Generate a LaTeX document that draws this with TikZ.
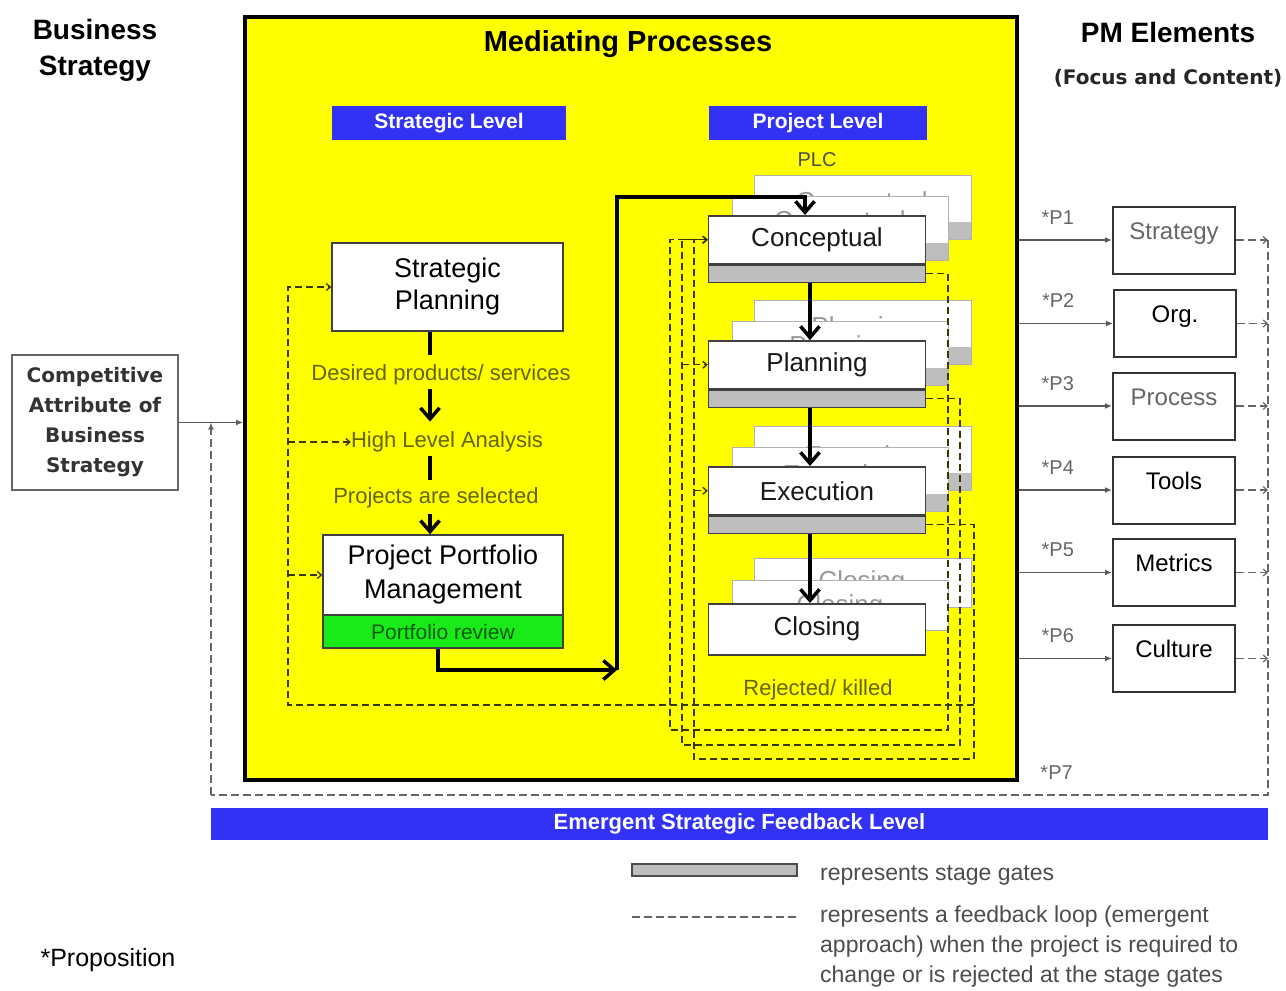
\documentclass[tikz,border=0pt]{standalone}
\usepackage{fontspec}
\setmainfont{Liberation Sans}
\newfontfamily\roundfont{DejaVu Sans}
\usetikzlibrary{arrows.meta}
\definecolor{medyellow}{RGB}{255,255,0}
\definecolor{barblue}{RGB}{50,50,245}
\definecolor{revgreen}{RGB}{25,235,25}
\definecolor{revtext}{RGB}{0,90,0}
\definecolor{olivetext}{RGB}{100,100,0}
\definecolor{fbolive}{RGB}{55,55,0}
\definecolor{gategray}{RGB}{190,190,190}

\begin{document}
\begin{tikzpicture}[x=1pt, y=-1pt,
  every node/.style={inner sep=0pt, align=center},
  levelbar/.style={fill=barblue, text=white, minimum height=34pt, font=\bfseries\fontsize{21}{24}\selectfont},
  plainbox/.style={draw=black!75, line width=1.5pt, fill=white},
  stagebox/.style={plainbox, minimum width=217pt, minimum height=48pt, font=\fontsize{26}{30}\selectfont, text=black!90},
  gatebox/.style={draw=black!75, line width=1.5pt, fill=gategray, minimum width=217pt, minimum height=17pt},
  ghost/.style={draw=black!30, line width=1pt, fill=white},
  ghosttext/.style={text=black!40, font=\fontsize{26}{30}\selectfont},
  note/.style={text=olivetext, font=\fontsize{22}{26}\selectfont},
  pmbox/.style={draw=black!80, line width=2pt, fill=white, minimum width=122pt, minimum height=67pt, text height=18pt, text depth=20pt, font=\fontsize{24}{28}\selectfont},
  plabel/.style={text=black!60, font=\fontsize{20}{24}\selectfont},
  keytext/.style={text=black!70, font=\fontsize{23}{30}\selectfont},
  flow/.style={line width=3.5pt, -{Straight Barb[length=11pt, width=19pt]}},
  stem/.style={line width=3.5pt},
  fb/.style={draw=fbolive, line width=1.3pt, dash pattern=on 7pt off 4pt},
  fbtip/.style={-{Straight Barb[length=4pt, width=7pt]}},
  feed/.style={draw=black!60, line width=1.2pt, dash pattern=on 8pt off 4pt},
  link/.style={draw=black!65, line width=1.5pt, -{Latex[length=7pt, width=6pt]}}
]
\useasboundingbox (0,0) rectangle (1286,991);

\node[draw=black, line width=3.5pt, fill=medyellow, minimum width=772pt, minimum height=763pt, anchor=north west] (med) at (243,15) {};
\node[font=\bfseries\fontsize{29}{34}\selectfont] (medtitle) at (628,44) {Mediating Processes};
\node[levelbar, minimum width=234pt] (stratlvl) at (449,123) {Strategic Level};
\node[levelbar, minimum width=218pt] (projlvl) at (818,123) {Project Level};
\node[text=black!70, font=\fontsize{20}{24}\selectfont] (plc) at (817,160) {PLC};

\node[font=\bfseries\fontsize{28}{36}\selectfont] (bstrat) at (95,50) {Business\\Strategy};
\node[font=\bfseries\fontsize{28}{32}\selectfont] (pmel) at (1168,32) {PM Elements};
\node[text=black!85, font=\roundfont\bfseries\fontsize{20}{24}\selectfont] (focus) at (1168,78) {(Focus and Content)};
\node[draw=black!60, line width=1.5pt, fill=white, minimum width=166pt, minimum height=135pt, text=black!80, font=\roundfont\bfseries\fontsize{20}{30}\selectfont] (cab) at (95,422.5) {Competitive\\Attribute of\\Business\\Strategy};

\node[plainbox, minimum width=231pt, minimum height=88pt, font=\fontsize{27}{32}\selectfont] (splan) at (447.5,287) {Strategic\\Planning};
\node[note] (desired) at (441,375) {Desired products/ services};
\node[note] (hla) at (447,442) {High Level Analysis};
\node[note] (selected) at (436,498) {Projects are selected};
\node[plainbox, minimum width=240pt, minimum height=80pt, font=\fontsize{27}{34}\selectfont] (ppm) at (443,575) {Project Portfolio\\Management};
\node[draw=black!75, line width=1.5pt, fill=revgreen, minimum width=240pt, minimum height=33pt, text=revtext, font=\fontsize{21}{24}\selectfont] (review) at (443,631.5) {Portfolio review};

\coordinate (axis) at (430,0);
\draw[stem, shorten >=10pt] (splan.south -| axis) -- (desired.north -| axis);
\draw[flow, shorten <=4pt, shorten >=10pt] (desired.south -| axis) -- (hla.north -| axis);
\draw[stem, shorten <=4pt, shorten >=8pt] (hla.south -| axis) -- (selected.north -| axis);
\draw[flow, shorten <=6pt] (selected.south -| axis) -- (ppm.north -| axis);

\foreach \ty/\nm/\lbl in {215/conc/Conceptual, 340/plan/Planning, 466/exec/Execution}{
  \draw[ghost] (754,\ty-40) rectangle (971,\ty+24);
  \fill[gategray] (754.5,\ty+7) rectangle (970.5,\ty+23.5);
  \node[ghosttext] at (862,\ty-11) {\lbl};
  \draw[ghost] (732,\ty-19) rectangle (948,\ty+45);
  \fill[gategray] (732.5,\ty+28) rectangle (947.5,\ty+44.5);
  \node[ghosttext] at (840,\ty+8) {\lbl};
  \node[stagebox, anchor=north] (\nm) at (817,\ty) {\lbl};
  \node[gatebox, anchor=north] (\nm g) at (\nm.south) {};
}
\draw[ghost] (754,558) rectangle (971,607);
\node[ghosttext] at (862,583) {Closing};
\draw[ghost] (732,580) rectangle (948,630);
\node[ghosttext] at (840,607) {Closing};
\node[stagebox, minimum height=51pt, anchor=north] (clos) at (817,603) {Closing};

\draw[flow] ([xshift=-7pt]concg.south) -- ([xshift=-7pt]plan.north);
\draw[flow] ([xshift=-7pt]plang.south) -- ([xshift=-7pt]exec.north);
\draw[flow] ([xshift=-7pt]execg.south) -- ([xshift=-7pt]clos.north);

\coordinate (turn) at (617,670);
\coordinate (hop) at (617,197);
\draw[flow] ([xshift=-5pt]review.south) |- (turn);
\draw[flow] (turn) -- (hop) -| ([xshift=-12pt]conc.north);

\node[note] (rejected) at (818,690) {Rejected/ killed};

\coordinate (lc1) at (948,730);
\coordinate (lc2) at (670,730);
\coordinate (lp1) at (960,745);
\coordinate (lp2) at (682,745);
\coordinate (le1) at (974,759);
\coordinate (le2) at (694,759);
\draw[fb, fbtip] (concg.east) -| (lc1) -- (lc2) |- (conc.west);
\draw[fb, fbtip] (plang.east) -| (lp1) -- (lp2) |- (conc.west);
\draw[fb, fbtip] (execg.east) -| (le1) -- (le2) |- (conc.west);
\draw[fb, fbtip] (lp2 |- plan) -- (plan.west);
\draw[fb, fbtip] (le2 |- exec) -- (exec.west);

\coordinate (sfb) at (288,705);
\draw[fb, fbtip] (le1 |- sfb) -- (sfb) |- (splan.west);
\draw[fb, fbtip] (sfb |- hla) -- (hla.west);
\draw[fb, fbtip] (sfb |- ppm) -- (ppm.west);

\node[pmbox, text=black!60] (strat) at (1174,240) {Strategy};
\node[pmbox] (org) at (1175,323.5) {Org.};
\node[pmbox, text=black!60] (proc) at (1174,406) {Process};
\node[pmbox] (tools) at (1174,490) {Tools};
\node[pmbox] (metr) at (1174,572.5) {Metrics};
\node[pmbox] (cult) at (1174,658.5) {Culture};

\foreach \bx/\pp in {strat/1, org/2, proc/3, tools/4, metr/5, cult/6}
  \draw[link] (med.east |- \bx) -- node[plabel, pos=0.42, above=15pt] {*P\pp} (\bx.west);

\coordinate (fbr) at (1268,795);
\coordinate (fbl) at (211,795);
\foreach \bx in {strat, org, proc, tools, metr, cult}
  \draw[feed, fbtip] (\bx.east) -- (\bx.east -| fbr);
\draw[feed] (fbr |- strat) -- (fbr) -- node[plabel, pos=0.2, above=15pt] {*P7} (fbl);
\draw[feed, -{Latex[length=7pt, width=6pt]}] (fbl) -- (fbl |- cab);
\draw[link] (cab) -- (cab -| med.west);

\node[levelbar, minimum width=1057pt, minimum height=32pt, font=\bfseries\fontsize{22}{26}\selectfont] (emerg) at (739.5,824) {Emergent Strategic Feedback Level};

\node[draw=black!70, line width=1.5pt, fill=gategray, minimum width=165pt, minimum height=12pt] (gatekey) at (714.5,870) {};
\node[keytext, anchor=west] (gatetxt) at (820,875) {represents stage gates};
\coordinate (dashl) at (632,917);
\coordinate (dashr) at (797,917);
\draw[feed] (dashl) -- (dashr);
\node[keytext, anchor=north west, align=left] (fbtxt) at (820,906) {represents a feedback loop (emergent\\approach) when the project is required to\\change or is rejected at the stage gates};
\node[font=\fontsize{25}{30}\selectfont] (prop) at (108,960) {*Proposition};
\end{tikzpicture}
\end{document}
